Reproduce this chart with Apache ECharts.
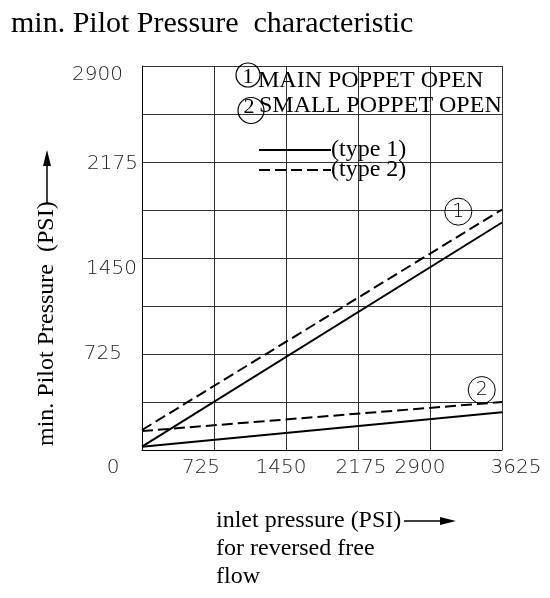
<!DOCTYPE html>
<html>
<head>
<meta charset="utf-8">
<script src="https://cdn.jsdelivr.net/npm/echarts@6.0.0/dist/echarts.min.js"></script>
<style>
  html, body { margin: 0; padding: 0; background: #fff; }
  #chart { width: 550px; height: 598px; }
</style>
</head>
<body>
<div id="chart"></div>
<script>
// ---- data ----
var inletPressure = [0, 3625];                 // x values (PSI)
var mainPoppetType1 = [25, 1718];              // solid, curve 1
var mainPoppetType2 = [151, 1816];             // dashed, curve 1
var smallPoppetType1 = [25, 285];              // solid, curve 2
var smallPoppetType2 = [143, 362];             // dashed, curve 2
var xTicks = [0, 725, 1450, 2175, 2900, 3625];
var yTicks = [725, 1450, 2175, 2900];
var curveMarks = [['1', 3185, 1800], ['2', 3421, 453]];

// ---- layout tweaks (style only) ----
var xLabelPad = [[0,58,0,0],[0,26,0,0],[0,10,0,0],[0,0,0,6],[0,20,0,0],[0,0,0,28]];
var yLabelPad = [[0,16,0,0],[22,1,0,0],[3,0,0,0],[18,15,0,0]];

function pairs(xs, ys) { return xs.map(function (x, i) { return [x, ys[i]]; }); }

var tickFont = { fontFamily: 'DejaVu Sans', fontSize: 20, fontWeight: 200, color: '#222' };
var xRich = {}, yRich = {};
xTicks.forEach(function (t, i) { xRich['x' + i] = Object.assign({ padding: xLabelPad[i] }, tickFont); });
yTicks.forEach(function (t, i) { yRich['y' + i] = Object.assign({ padding: yLabelPad[i] }, tickFont); });

var serif = 'Liberation Serif';
var chart = echarts.init(document.getElementById('chart'), null, { renderer: 'canvas' });

function lineSeries(name, ys, dashed, marks) {
  var s = {
    name: name,
    type: 'line',
    data: pairs(inletPressure, ys),
    symbol: 'none',
    silent: true,
    z: 3,
    lineStyle: { color: '#000', width: 2, type: dashed ? [11, 5] : 'solid' },
    itemStyle: { color: '#000' }
  };
  if (marks) {
    s.markPoint = {
      symbol: 'circle',
      symbolSize: 27,
      silent: true,
      itemStyle: { color: 'rgba(0,0,0,0)', borderColor: '#000', borderWidth: 1 },
      label: { show: true, position: 'inside', fontFamily: 'DejaVu Sans', fontWeight: 200, fontSize: 19, color: '#000',
               formatter: function (p) { return p.name; } },
      data: marks.map(function (m) { return { name: m[0], coord: [m[1], m[2]] }; })
    };
  }
  return s;
}

var option = {
  backgroundColor: '#fff',
  animation: false,
  title: {
    text: 'min. Pilot Pressure  characteristic',
    left: 6, top: 4,
    textStyle: { fontFamily: serif, fontSize: 30, fontWeight: 'normal', color: '#000' }
  },
  grid: { left: 142, top: 66, width: 360, height: 384, containLabel: false },
  legend: {
    orient: 'vertical',
    left: 253, top: 133,
    itemWidth: 72, itemHeight: 14, itemGap: -4,
    selectedMode: false,
    itemStyle: { opacity: 0 },
    data: ['(type 1)', '(type 2)'],
    textStyle: { fontFamily: serif, fontSize: 24, color: '#000', padding: [0,0,0,-5] }
  },
  xAxis: {
    type: 'value', min: 0, max: 3625, interval: 725,
    axisLine: { show: true, lineStyle: { color: '#000', width: 1 } },
    axisTick: { show: false },
    splitLine: { show: true, lineStyle: { color: '#333', width: 1 } },
    axisLabel: {
      margin: 8,
      formatter: function (v) { var i = xTicks.indexOf(v); return i < 0 ? '' : '{x' + i + '|' + v + '}'; },
      rich: xRich
    }
  },
  yAxis: {
    type: 'value', min: 0, max: 2900, interval: 362.5,
    axisLine: { show: true, lineStyle: { color: '#000', width: 1 } },
    axisTick: { show: false },
    splitLine: { show: true, lineStyle: { color: '#333', width: 1 } },
    axisLabel: {
      margin: 4,
      formatter: function (v) { var i = yTicks.indexOf(v); return i < 0 ? '' : '{y' + i + '|' + v + '}'; },
      rich: yRich
    }
  },
  series: [
    lineSeries('(type 1)', mainPoppetType1, false, curveMarks),
    lineSeries('(type 2)', mainPoppetType2, true),
    lineSeries('(type 1)', smallPoppetType1, false),
    lineSeries('(type 2)', smallPoppetType2, true)
  ],
  graphic: [
    // in-plot key: circled numbers
    { type: 'circle', shape: { cx: 248, cy: 75, r: 12 }, style: { fill: 'none', stroke: '#000', lineWidth: 1.2 }, z: 10 },
    { type: 'text', x: 248, y: 77, style: { text: '1', fontFamily: serif, fontSize: 22, fill: '#000', align: 'center', verticalAlign: 'middle' }, z: 10 },
    { type: 'text', x: 258, y: 81, style: { text: 'MAIN POPPET OPEN', fontFamily: serif, fontSize: 24, fill: '#000', align: 'left', verticalAlign: 'middle' }, z: 10 },
    { type: 'circle', shape: { cx: 251, cy: 110.5, r: 13 }, style: { fill: 'none', stroke: '#000', lineWidth: 1.2 }, z: 10 },
    { type: 'text', x: 249, y: 107, style: { text: '2', fontFamily: serif, fontSize: 22, fill: '#000', align: 'center', verticalAlign: 'middle' }, z: 10 },
    { type: 'text', x: 259, y: 106, style: { text: 'SMALL POPPET OPEN', fontFamily: serif, fontSize: 24, fill: '#000', align: 'left', verticalAlign: 'middle' }, z: 10 },
    // y axis name with arrow
    { type: 'text', x: 47, y: 446, rotation: Math.PI / 2,
      style: { text: 'min. Pilot Pressure  (PSI)', fontFamily: serif, fontSize: 24, fill: '#000', align: 'left', verticalAlign: 'middle' } },
    { type: 'line', shape: { x1: 47, y1: 204, x2: 47, y2: 165 }, style: { stroke: '#000', lineWidth: 1.5 } },
    { type: 'polygon', shape: { points: [[47, 150], [43, 166], [51, 166]] }, style: { fill: '#000' } },
    // x axis name with arrow
    { type: 'text', x: 216, y: 507,
      style: { text: 'inlet pressure (PSI)\nfor reversed free\nflow', fontFamily: serif, fontSize: 24, lineHeight: 28, fill: '#000', align: 'left', verticalAlign: 'top' } },
    { type: 'line', shape: { x1: 404, y1: 521, x2: 440, y2: 521 }, style: { stroke: '#000', lineWidth: 1.5 } },
    { type: 'polygon', shape: { points: [[456, 521], [440, 517], [440, 525]] }, style: { fill: '#000' } }
  ]
};
chart.setOption(option);
</script>
</body>
</html>
